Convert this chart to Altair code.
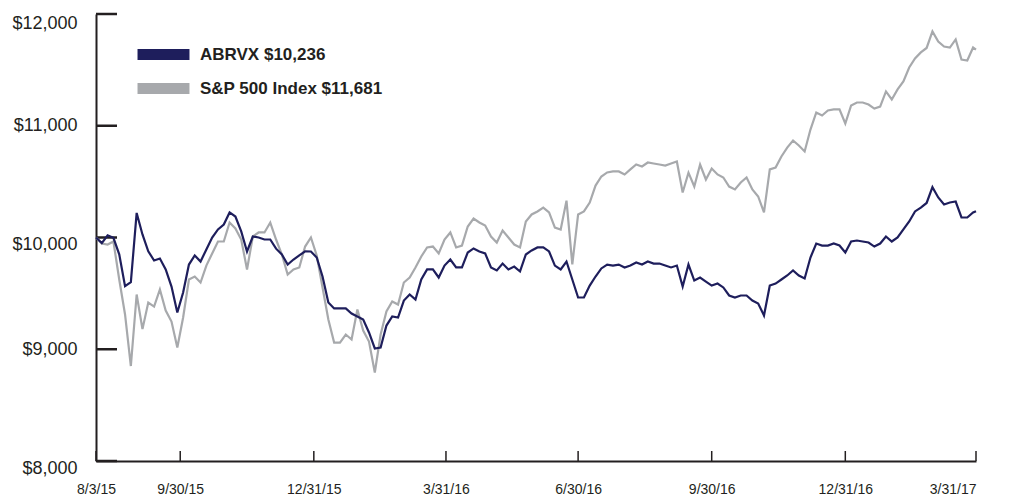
import altair as alt
import pandas as pd

# ---------------- data ----------------
start_date = "2015-08-03"
end_date = "2017-03-31"
# sampling dates: every 4 calendar days from the start, plus the final date
dates = pd.date_range(start_date, periods=152, freq="4D").strftime("%Y-%m-%d").tolist() + [end_date]

abrvx_label = "ABRVX $10,236"
sp500_label = "S&P 500 Index $11,681"

abrvx = [
    10000, 9950, 10020, 9997, 9850, 9564, 9600, 10220, 10027, 9877,
    9794, 9812, 9714, 9561, 9329, 9508, 9758, 9839, 9785, 9893,
    10000, 10072, 10116, 10224, 10188, 10054, 9875, 10009, 10000, 9982,
    9982, 9900, 9848, 9758, 9803, 9840, 9877, 9875, 9821, 9651,
    9418, 9365, 9365, 9365, 9320, 9293, 9266, 9150, 9007, 9016,
    9212, 9293, 9284, 9436, 9490, 9445, 9624, 9714, 9714, 9642,
    9749, 9803, 9732, 9732, 9866, 9902, 9875, 9857, 9732, 9705,
    9767, 9714, 9740, 9696, 9848, 9884, 9911, 9911, 9875, 9749,
    9714, 9785, 9624, 9463, 9463, 9570, 9651, 9723, 9758, 9749,
    9758, 9732, 9749, 9776, 9758, 9785, 9767, 9767, 9749, 9732,
    9749, 9561, 9758, 9615, 9642, 9606, 9570, 9588, 9553, 9481,
    9463, 9481, 9481, 9436, 9409, 9302, 9570, 9588, 9624, 9660,
    9705, 9660, 9633, 9821, 9946, 9928, 9928, 9946, 9928, 9866,
    9964, 9973, 9964, 9955, 9919, 9946, 10009, 9964, 10000, 10072,
    10143, 10233, 10268, 10309, 10450, 10358, 10295, 10313, 10322, 10179,
    10179, 10224, 10236,
]

sp500 = [
    10000, 9946, 9937, 9964, 9624, 9311, 8850, 9490, 9180, 9418,
    9382, 9535, 9347, 9248, 9016, 9284, 9624, 9651, 9597, 9749,
    9857, 9964, 9964, 10134, 10081, 9982, 9714, 10009, 10045, 10045,
    10134, 9982, 9848, 9669, 9714, 9732, 9919, 10000, 9839, 9553,
    9266, 9060, 9060, 9132, 9087, 9356, 9168, 9069, 8792, 9132,
    9338, 9427, 9400, 9597, 9642, 9732, 9830, 9911, 9919, 9857,
    9982, 10045, 9911, 9928, 10098, 10170, 10134, 10107, 10009, 9955,
    10063, 10000, 9937, 9911, 10143, 10206, 10233, 10268, 10224, 10089,
    10072, 10330, 9760, 10206, 10233, 10313, 10465, 10546, 10582, 10591,
    10591, 10564, 10609, 10653, 10636, 10671, 10662, 10653, 10644, 10662,
    10680, 10403, 10580, 10456, 10653, 10519, 10617, 10564, 10537, 10456,
    10430, 10492, 10537, 10430, 10367, 10224, 10609, 10626, 10725, 10805,
    10868, 10823, 10770, 10966, 11119, 11092, 11137, 11146, 11146, 11020,
    11181, 11208, 11208, 11190, 11154, 11172, 11307, 11235, 11325, 11396,
    11521, 11602, 11656, 11696, 11844, 11754, 11709, 11700, 11772, 11593,
    11584, 11700, 11681,
]

x_tick_dates = ["2015-08-03", "2015-09-30", "2015-12-31", "2016-03-31",
                "2016-06-30", "2016-09-30", "2016-12-31", "2017-03-31"]
y_tick_values = [8000, 9000, 10000, 11000, 12000]

# ---------------- styling ----------------
NAVY = "#1e1e5c"
GRAY = "#a7a9ac"
INK = "#231f20"
W, H = 880, 447
FONT = "Liberation Sans"
LAST_LABEL = "utcFormat(datum.value, '%-m/%-d/%y') == '3/31/17'"


def dt(s):
    y, m, d = (int(p) for p in s.split("-"))
    return alt.DateTime(year=y, month=m, date=d, utc=True)


x_enc = alt.X(
    "date:T",
    scale=alt.Scale(type="utc", domain=[dt(start_date), dt(end_date)]),
    axis=alt.Axis(
        title=None,
        values=[dt(s) for s in x_tick_dates],
        labelExpr="utcFormat(datum.value, '%-m/%-d/%y')",
        tickSize=0,
        grid=False,
        domainColor=INK,
        domainWidth=2,
        labelFont=FONT,
        labelFontSize=14,
        labelColor=INK,
        labelPadding=21,
        labelFlush=False,
        labelOverlap=False,
        labelAlign={"condition": {"test": LAST_LABEL, "value": "right"},
                    "value": "center"},
    ),
)

y_enc = alt.Y(
    "value:Q",
    scale=alt.Scale(domain=[8000, 12000], nice=False, zero=False),
    axis=alt.Axis(
        title=None,
        values=y_tick_values,
        format="$,.0f",
        tickSize=0,
        grid=False,
        domainColor=INK,
        domainWidth=2,
        labelFont=FONT,
        labelFontSize=18,
        labelColor=INK,
        labelPadding=19,
        labelOffset={"condition": [
            {"test": "datum.value == 12000", "value": 9},
            {"test": "datum.value == 10000", "value": 7},
            {"test": "datum.value == 8000", "value": 7},
        ], "value": 0},
    ),
)

color_enc = alt.Color(
    "series:N",
    scale=alt.Scale(domain=[abrvx_label, sp500_label], range=[NAVY, GRAY]),
    legend=alt.Legend(
        title=None,
        orient="none",
        legendX=56,
        legendY=29,
        symbolType="M-4.33,0H4.33",
        symbolSize=144,
        symbolStrokeWidth=11,
        labelFont=FONT,
        labelFontSize=17,
        labelFontWeight="bold",
        labelColor=INK,
        labelOffset=25,
        labelLimit=400,
        rowPadding=-19,
        padding=0,
    ),
)

df_abrvx = pd.DataFrame({"date": dates, "value": abrvx, "series": abrvx_label})
df_sp = pd.DataFrame({"date": dates, "value": sp500, "series": sp500_label})

y_ticks = alt.Chart(pd.DataFrame({"value": y_tick_values})).mark_rule(
    color=INK, strokeWidth=2.5
).encode(y=y_enc, x=alt.value(0), x2=alt.value(21))

x_ticks = alt.Chart(pd.DataFrame({"date": x_tick_dates})).mark_rule(
    color=INK, strokeWidth=1.5
).encode(x=x_enc, y=alt.value(H - 10), y2=alt.value(H))

sp_line = alt.Chart(df_sp).mark_line(strokeWidth=2.2).encode(
    x=x_enc, y=y_enc, color=color_enc
)
ab_line = alt.Chart(df_abrvx).mark_line(strokeWidth=2.2).encode(
    x=x_enc, y=y_enc, color=color_enc
)

chart = (
    alt.layer(y_ticks, x_ticks, sp_line, ab_line)
    .properties(
        width=W,
        height=H,
        autosize=alt.AutoSizeParams(type="none"),
        padding={"left": 88, "top": 6, "right": 15, "bottom": 40},
        background="white",
    )
    .configure_view(stroke=None)
)

chart.save("out.html", embed_options={"renderer": "svg", "actions": False})
